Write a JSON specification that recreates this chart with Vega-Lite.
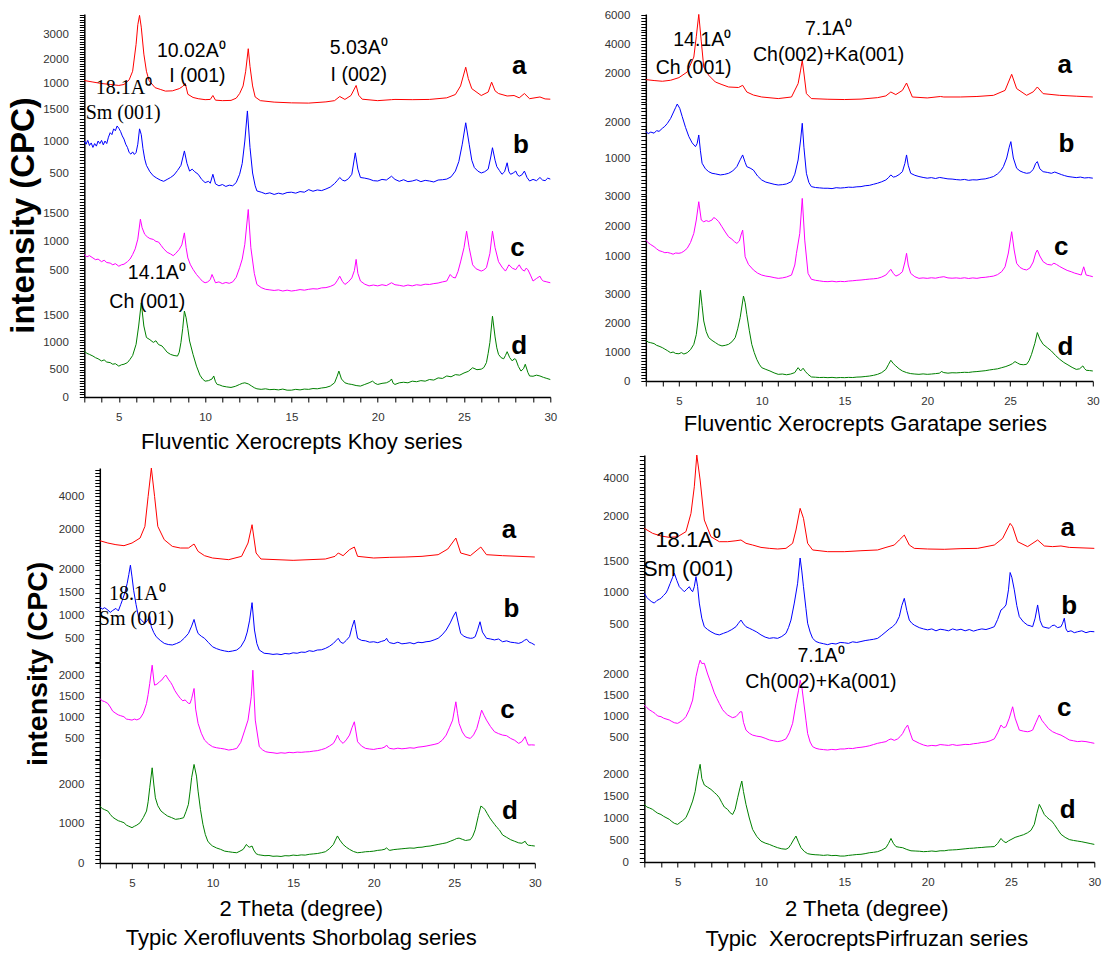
{
"$schema": "https://vega.github.io/schema/vega-lite/v6.json",
"background": "white",
"padding": {"left": 7, "top": 8, "right": 5, "bottom": 5},
"config": {
  "view": {"stroke": null},
  "axis": {"grid": false, "ticks": true, "domainColor": "#000", "domainWidth": 1.5, "tickColor": "#000", "tickWidth": 1, "labelFont": "Liberation Sans", "labelFontSize": 11.5, "labelColor": "#333", "labelOverlap": false, "labelFlush": false, "labelBound": false, "titleFont": "Liberation Sans", "titleFontSize": 22, "titleFontWeight": "normal", "titleColor": "#000"},
  "axisX": {"labelPadding": 9, "tickSize": 5},
  "axisY": {"labelPadding": 11, "tickSize": 5},
  "text": {"font": "Liberation Sans", "color": "#000", "baseline": "alphabetic", "align": "center"},
  "line": {"strokeWidth": 1}
},
"spacing": 45,
"hconcat": [
{"vconcat": [
 {"vconcat": [
  {"width": 466, "height": 94,
   "encoding": {"x": {"field": "t", "type": "quantitative", "scale": {"domain": [3, 30], "nice": false, "zero": false}, "axis": null},
     "y": {"field": "i", "type": "quantitative", "scale": {"domain": [0, 3837], "nice": false, "zero": false}, "axis": {"title": null, "tickCount": 38, "labelExpr": "datum.value > 0 && datum.value % 1000 === 0 ? '' + datum.value : ''", "encoding": {"ticks": {"update": {"x2": {"signal": "datum.value % 1000 === 0 ? -8 : -4"}}}}}}},
   "layer": [
    {"data": {"values": [{"t":3,"i":1120},{"t":3.5,"i":1060},{"t":4,"i":1000},{"t":4.5,"i":960},{"t":5,"i":920},{"t":5.3,"i":960},{"t":5.6,"i":1150},{"t":5.8,"i":1500},{"t":6.0,"i":2600},{"t":6.1,"i":3400},{"t":6.2,"i":3780},{"t":6.3,"i":3300},{"t":6.45,"i":2200},{"t":6.6,"i":1500},{"t":6.75,"i":1120},{"t":7.1,"i":830},{"t":7.4,"i":760},{"t":7.7,"i":690},{"t":8.1,"i":700},{"t":8.5,"i":790},{"t":8.7,"i":880},{"t":8.85,"i":1000},{"t":9.0,"i":560},{"t":9.3,"i":430},{"t":9.6,"i":380},{"t":10.0,"i":340},{"t":10.3,"i":350},{"t":10.45,"i":510},{"t":10.6,"i":320},{"t":11,"i":300},{"t":11.5,"i":310},{"t":11.8,"i":400},{"t":12.0,"i":590},{"t":12.2,"i":900},{"t":12.35,"i":1500},{"t":12.5,"i":2420},{"t":12.6,"i":1700},{"t":12.75,"i":900},{"t":12.9,"i":450},{"t":13.2,"i":300},{"t":14,"i":240},{"t":15,"i":210},{"t":16,"i":200},{"t":17,"i":250},{"t":17.5,"i":300},{"t":17.8,"i":470},{"t":18.1,"i":350},{"t":18.45,"i":510},{"t":18.75,"i":920},{"t":18.9,"i":520},{"t":19.1,"i":360},{"t":20,"i":300},{"t":20.8,"i":340},{"t":21,"i":350},{"t":22,"i":340},{"t":23,"i":350},{"t":24,"i":415},{"t":24.5,"i":550},{"t":24.8,"i":900},{"t":25.1,"i":1665},{"t":25.25,"i":1200},{"t":25.45,"i":790},{"t":26,"i":510},{"t":26.4,"i":650},{"t":26.6,"i":1055},{"t":26.8,"i":700},{"t":27,"i":590},{"t":27.5,"i":490},{"t":27.9,"i":510},{"t":28.2,"i":415},{"t":28.5,"i":590},{"t":28.8,"i":380},{"t":29.4,"i":450},{"t":29.7,"i":370},{"t":30,"i":360}]},
     "mark": {"type": "line", "color": "#ff0000"}},
    {"data": {"values": [{"t": 28.2, "i": 1395, "s": "a"}]}, "mark": {"type": "text", "fontSize": 26, "fontWeight": "bold"}, "encoding": {"text": {"field": "s"}}},
    {"data": {"values": [{"t": 9.2, "i": 2073, "s": "10.02A⁰"}, {"t": 9.55, "i": 1053, "s": "I (001)"}, {"t": 18.9, "i": 2211, "s": "5.03A⁰"}, {"t": 18.9, "i": 1122, "s": "I (002)"}]}, "mark": {"type": "text", "fontSize": 19.5}, "encoding": {"text": {"field": "s"}}},
    {"data": {"values": [{"t": 5.3, "i": 580, "s": "18.1A⁰"}]}, "mark": {"type": "text", "font": "Liberation Serif", "fontSize": 20}, "encoding": {"text": {"field": "s"}}}
   ]},
  {"width": 466, "height": 97,
   "encoding": {"x": {"field": "t", "type": "quantitative", "scale": {"domain": [3, 30], "nice": false, "zero": false}, "axis": null},
     "y": {"field": "i", "type": "quantitative", "scale": {"domain": [0, 1516], "nice": false, "zero": false}, "axis": {"title": null, "tickCount": 30, "labelExpr": "datum.value > 0 && datum.value % 500 === 0 ? '' + datum.value : ''", "encoding": {"ticks": {"update": {"x2": {"signal": "datum.value % 500 === 0 ? -8 : -4"}}}}}}},
   "layer": [
    {"data": {"values": [{"t":3,"i":1000},{"t":3.1,"i":950},{"t":3.2,"i":1010},{"t":3.3,"i":930},{"t":3.4,"i":970},{"t":3.5,"i":900},{"t":3.6,"i":960},{"t":3.7,"i":920},{"t":3.8,"i":1000},{"t":3.9,"i":960},{"t":4.0,"i":1010},{"t":4.1,"i":940},{"t":4.2,"i":1000},{"t":4.3,"i":960},{"t":4.4,"i":1060},{"t":4.5,"i":1130},{"t":4.6,"i":1100},{"t":4.7,"i":1190},{"t":4.8,"i":1160},{"t":4.9,"i":1235},{"t":5.0,"i":1200},{"t":5.1,"i":1150},{"t":5.2,"i":1080},{"t":5.3,"i":1030},{"t":5.4,"i":950},{"t":5.5,"i":900},{"t":5.6,"i":820},{"t":5.7,"i":795},{"t":5.8,"i":830},{"t":5.9,"i":790},{"t":6.0,"i":820},{"t":6.1,"i":950},{"t":6.2,"i":1190},{"t":6.3,"i":1100},{"t":6.4,"i":880},{"t":6.5,"i":720},{"t":6.6,"i":620},{"t":6.8,"i":520},{"t":7.0,"i":455},{"t":7.2,"i":420},{"t":7.4,"i":390},{"t":7.6,"i":370},{"t":7.8,"i":400},{"t":8.0,"i":430},{"t":8.2,"i":470},{"t":8.4,"i":540},{"t":8.6,"i":620},{"t":8.8,"i":845},{"t":8.95,"i":650},{"t":9.1,"i":530},{"t":9.25,"i":560},{"t":9.4,"i":520},{"t":9.6,"i":480},{"t":9.8,"i":400},{"t":10.0,"i":350},{"t":10.2,"i":370},{"t":10.3,"i":340},{"t":10.45,"i":480},{"t":10.6,"i":330},{"t":10.8,"i":300},{"t":11.0,"i":320},{"t":11.2,"i":290},{"t":11.4,"i":310},{"t":11.6,"i":300},{"t":11.8,"i":350},{"t":12.0,"i":480},{"t":12.15,"i":650},{"t":12.3,"i":1000},{"t":12.45,"i":1470},{"t":12.6,"i":900},{"t":12.75,"i":500},{"t":12.9,"i":300},{"t":13.0,"i":220},{"t":13.25,"i":200},{"t":13.5,"i":175},{"t":13.75,"i":190},{"t":14,"i":165},{"t":14.25,"i":185},{"t":14.5,"i":170},{"t":14.75,"i":195},{"t":15,"i":200},{"t":15.25,"i":185},{"t":15.5,"i":210},{"t":15.75,"i":200},{"t":16,"i":240},{"t":16.25,"i":215},{"t":16.5,"i":235},{"t":16.75,"i":225},{"t":17,"i":250},{"t":17.25,"i":280},{"t":17.5,"i":335},{"t":17.65,"i":380},{"t":17.8,"i":430},{"t":17.95,"i":390},{"t":18.1,"i":375},{"t":18.3,"i":410},{"t":18.5,"i":480},{"t":18.7,"i":815},{"t":18.85,"i":560},{"t":19.0,"i":430},{"t":19.25,"i":420},{"t":19.5,"i":405},{"t":19.75,"i":380},{"t":20,"i":375},{"t":20.25,"i":400},{"t":20.5,"i":390},{"t":20.8,"i":450},{"t":21.0,"i":400},{"t":21.25,"i":370},{"t":21.5,"i":395},{"t":21.75,"i":365},{"t":22,"i":375},{"t":22.25,"i":395},{"t":22.5,"i":365},{"t":22.75,"i":385},{"t":23,"i":375},{"t":23.25,"i":360},{"t":23.5,"i":390},{"t":23.75,"i":395},{"t":24,"i":405},{"t":24.25,"i":440},{"t":24.5,"i":530},{"t":24.7,"i":680},{"t":24.9,"i":950},{"t":25.1,"i":1285},{"t":25.3,"i":950},{"t":25.45,"i":700},{"t":25.6,"i":585},{"t":25.8,"i":530},{"t":26,"i":500},{"t":26.2,"i":520},{"t":26.4,"i":560},{"t":26.55,"i":750},{"t":26.65,"i":895},{"t":26.8,"i":700},{"t":26.9,"i":600},{"t":27.05,"i":540},{"t":27.2,"i":480},{"t":27.35,"i":520},{"t":27.5,"i":660},{"t":27.6,"i":520},{"t":27.7,"i":480},{"t":27.85,"i":500},{"t":28,"i":530},{"t":28.1,"i":470},{"t":28.2,"i":450},{"t":28.35,"i":470},{"t":28.5,"i":530},{"t":28.65,"i":430},{"t":28.8,"i":375},{"t":29.0,"i":400},{"t":29.2,"i":380},{"t":29.4,"i":430},{"t":29.55,"i":390},{"t":29.7,"i":380},{"t":29.85,"i":420},{"t":30,"i":405}]},
     "mark": {"type": "line", "color": "#0000ff"}},
    {"data": {"values": [{"t": 28.3, "i": 817, "s": "b"}]}, "mark": {"type": "text", "fontSize": 26, "fontWeight": "bold"}, "encoding": {"text": {"field": "s"}}},
    {"data": {"values": [{"t": 5.25, "i": 1339, "s": "Sm (001)"}]}, "mark": {"type": "text", "font": "Liberation Serif", "fontSize": 20}, "encoding": {"text": {"field": "s"}}}
   ]},
  {"width": 466, "height": 94,
   "encoding": {"x": {"field": "t", "type": "quantitative", "scale": {"domain": [3, 30], "nice": false, "zero": false}, "axis": null},
     "y": {"field": "i", "type": "quantitative", "scale": {"domain": [0, 1649], "nice": false, "zero": false}, "axis": {"title": null, "tickCount": 33, "labelExpr": "datum.value > 0 && datum.value % 500 === 0 ? '' + datum.value : ''", "encoding": {"ticks": {"update": {"x2": {"signal": "datum.value % 500 === 0 ? -8 : -4"}}}}}}},
   "layer": [
    {"data": {"values": [{"t":3,"i":780},{"t":3.15,"i":740},{"t":3.3,"i":760},{"t":3.5,"i":720},{"t":3.65,"i":690},{"t":3.8,"i":700},{"t":4,"i":655},{"t":4.15,"i":680},{"t":4.3,"i":640},{"t":4.5,"i":630},{"t":4.65,"i":600},{"t":4.8,"i":620},{"t":5,"i":575},{"t":5.15,"i":600},{"t":5.3,"i":610},{"t":5.5,"i":655},{"t":5.65,"i":700},{"t":5.8,"i":780},{"t":5.95,"i":880},{"t":6.1,"i":1050},{"t":6.25,"i":1400},{"t":6.35,"i":1250},{"t":6.5,"i":1135},{"t":6.65,"i":1090},{"t":6.8,"i":1060},{"t":7,"i":1045},{"t":7.15,"i":1010},{"t":7.3,"i":1000},{"t":7.45,"i":940},{"t":7.6,"i":880},{"t":7.8,"i":820},{"t":8,"i":790},{"t":8.15,"i":760},{"t":8.3,"i":800},{"t":8.5,"i":870},{"t":8.65,"i":950},{"t":8.8,"i":1160},{"t":8.9,"i":900},{"t":9.0,"i":720},{"t":9.15,"i":600},{"t":9.3,"i":520},{"t":9.5,"i":430},{"t":9.7,"i":360},{"t":9.85,"i":310},{"t":10,"i":285},{"t":10.15,"i":300},{"t":10.3,"i":340},{"t":10.4,"i":430},{"t":10.5,"i":360},{"t":10.6,"i":285},{"t":10.8,"i":300},{"t":11,"i":270},{"t":11.2,"i":290},{"t":11.4,"i":275},{"t":11.6,"i":300},{"t":11.8,"i":380},{"t":12.0,"i":550},{"t":12.15,"i":700},{"t":12.3,"i":960},{"t":12.5,"i":1570},{"t":12.65,"i":900},{"t":12.85,"i":450},{"t":13,"i":255},{"t":13.25,"i":200},{"t":13.5,"i":170},{"t":13.75,"i":160},{"t":14,"i":150},{"t":14.25,"i":160},{"t":14.5,"i":140},{"t":14.75,"i":155},{"t":15,"i":140},{"t":15.25,"i":150},{"t":15.5,"i":165},{"t":15.75,"i":155},{"t":16,"i":170},{"t":16.25,"i":180},{"t":16.5,"i":175},{"t":16.75,"i":195},{"t":17,"i":200},{"t":17.25,"i":220},{"t":17.5,"i":255},{"t":17.65,"i":320},{"t":17.8,"i":400},{"t":17.95,"i":310},{"t":18.1,"i":255},{"t":18.3,"i":300},{"t":18.5,"i":370},{"t":18.65,"i":500},{"t":18.75,"i":695},{"t":18.85,"i":450},{"t":19.0,"i":315},{"t":19.25,"i":260},{"t":19.5,"i":230},{"t":19.75,"i":245},{"t":20,"i":230},{"t":20.25,"i":250},{"t":20.5,"i":235},{"t":20.8,"i":285},{"t":21.0,"i":250},{"t":21.25,"i":240},{"t":21.5,"i":225},{"t":21.75,"i":245},{"t":22,"i":230},{"t":22.25,"i":250},{"t":22.5,"i":240},{"t":22.75,"i":260},{"t":23,"i":255},{"t":23.25,"i":270},{"t":23.5,"i":280},{"t":23.75,"i":300},{"t":24,"i":315},{"t":24.2,"i":430},{"t":24.35,"i":380},{"t":24.5,"i":370},{"t":24.65,"i":480},{"t":24.8,"i":650},{"t":25.0,"i":900},{"t":25.15,"i":1190},{"t":25.3,"i":900},{"t":25.5,"i":600},{"t":25.7,"i":530},{"t":26,"i":490},{"t":26.15,"i":510},{"t":26.3,"i":550},{"t":26.5,"i":800},{"t":26.65,"i":1190},{"t":26.8,"i":900},{"t":27,"i":655},{"t":27.2,"i":560},{"t":27.4,"i":490},{"t":27.5,"i":540},{"t":27.6,"i":600},{"t":27.8,"i":540},{"t":28,"i":515},{"t":28.1,"i":560},{"t":28.2,"i":600},{"t":28.35,"i":520},{"t":28.5,"i":490},{"t":28.6,"i":540},{"t":28.7,"i":515},{"t":28.85,"i":420},{"t":29,"i":315},{"t":29.2,"i":360},{"t":29.4,"i":400},{"t":29.5,"i":340},{"t":29.6,"i":315},{"t":29.8,"i":300},{"t":30,"i":285}]},
     "mark": {"type": "line", "color": "#ff00ff"}},
    {"data": {"values": [{"t": 28.1, "i": 752, "s": "c"}]}, "mark": {"type": "text", "fontSize": 26, "fontWeight": "bold"}, "encoding": {"text": {"field": "s"}}},
    {"data": {"values": [{"t": 7.2, "i": 345, "s": "14.1A⁰"}]}, "mark": {"type": "text", "fontSize": 19.5}, "encoding": {"text": {"field": "s"}}}
   ]},
  {"width": 466, "height": 98,
   "encoding": {"x": {"field": "t", "type": "quantitative", "scale": {"domain": [3, 30], "nice": false, "zero": false}, "axis": {"tickCount": 27, "labelExpr": "datum.value % 5 === 0 ? '' + datum.value : ''", "encoding": {"ticks": {"update": {"y2": {"signal": "datum.value % 5 === 0 ? 7 : 4"}}}}, "title": "Fluventic Xerocrepts Khoy series", "titleX": 217, "titleY": 44, "titleBaseline": "middle", "titleAlign": "center"}},
     "y": {"field": "i", "type": "quantitative", "scale": {"domain": [0, 1795], "nice": false, "zero": false}, "axis": {"title": null, "tickCount": 36, "labelExpr": "datum.value % 500 === 0 ? '' + datum.value : ''", "encoding": {"ticks": {"update": {"x2": {"signal": "datum.value % 500 === 0 ? -8 : -4"}}}}}}},
   "layer": [
    {"data": {"values": [{"t":3,"i":840},{"t":3.15,"i":800},{"t":3.3,"i":780},{"t":3.5,"i":750},{"t":3.65,"i":720},{"t":3.8,"i":700},{"t":4,"i":660},{"t":4.15,"i":680},{"t":4.3,"i":640},{"t":4.5,"i":630},{"t":4.65,"i":600},{"t":4.8,"i":610},{"t":5,"i":565},{"t":5.15,"i":590},{"t":5.3,"i":600},{"t":5.5,"i":630},{"t":5.65,"i":690},{"t":5.8,"i":760},{"t":6,"i":965},{"t":6.15,"i":1300},{"t":6.3,"i":1725},{"t":6.45,"i":1300},{"t":6.6,"i":1090},{"t":6.8,"i":1050},{"t":7,"i":1000},{"t":7.15,"i":1030},{"t":7.3,"i":960},{"t":7.5,"i":935},{"t":7.65,"i":880},{"t":7.8,"i":820},{"t":8,"i":780},{"t":8.2,"i":760},{"t":8.4,"i":750},{"t":8.5,"i":820},{"t":8.6,"i":1000},{"t":8.7,"i":1250},{"t":8.8,"i":1575},{"t":8.9,"i":1450},{"t":9.0,"i":1250},{"t":9.1,"i":1025},{"t":9.3,"i":780},{"t":9.5,"i":565},{"t":9.7,"i":400},{"t":9.85,"i":330},{"t":10,"i":290},{"t":10.2,"i":300},{"t":10.4,"i":330},{"t":10.5,"i":385},{"t":10.6,"i":280},{"t":10.7,"i":230},{"t":10.85,"i":220},{"t":11,"i":200},{"t":11.25,"i":185},{"t":11.5,"i":175},{"t":11.75,"i":195},{"t":12,"i":230},{"t":12.15,"i":250},{"t":12.3,"i":260},{"t":12.5,"i":240},{"t":12.7,"i":200},{"t":12.85,"i":170},{"t":13,"i":150},{"t":13.25,"i":140},{"t":13.5,"i":150},{"t":13.75,"i":135},{"t":14,"i":140},{"t":14.25,"i":130},{"t":14.5,"i":145},{"t":14.75,"i":125},{"t":15,"i":125},{"t":15.25,"i":140},{"t":15.5,"i":130},{"t":15.75,"i":145},{"t":16,"i":140},{"t":16.25,"i":155},{"t":16.5,"i":150},{"t":16.75,"i":165},{"t":17,"i":175},{"t":17.25,"i":200},{"t":17.5,"i":260},{"t":17.65,"i":380},{"t":17.75,"i":475},{"t":17.9,"i":330},{"t":18.1,"i":260},{"t":18.3,"i":240},{"t":18.5,"i":230},{"t":18.75,"i":210},{"t":19,"i":200},{"t":19.25,"i":230},{"t":19.5,"i":260},{"t":19.7,"i":290},{"t":19.85,"i":250},{"t":20,"i":230},{"t":20.25,"i":250},{"t":20.5,"i":260},{"t":20.7,"i":290},{"t":20.8,"i":330},{"t":20.9,"i":250},{"t":21,"i":230},{"t":21.25,"i":260},{"t":21.5,"i":270},{"t":21.75,"i":260},{"t":22,"i":290},{"t":22.25,"i":280},{"t":22.5,"i":300},{"t":22.75,"i":290},{"t":23,"i":320},{"t":23.25,"i":310},{"t":23.5,"i":350},{"t":23.75,"i":340},{"t":24,"i":385},{"t":24.25,"i":370},{"t":24.5,"i":410},{"t":24.75,"i":400},{"t":25,"i":440},{"t":25.25,"i":470},{"t":25.5,"i":535},{"t":25.75,"i":500},{"t":26,"i":510},{"t":26.15,"i":540},{"t":26.3,"i":630},{"t":26.4,"i":800},{"t":26.5,"i":1000},{"t":26.65,"i":1480},{"t":26.8,"i":1100},{"t":26.9,"i":900},{"t":27,"i":780},{"t":27.15,"i":720},{"t":27.3,"i":700},{"t":27.4,"i":760},{"t":27.5,"i":830},{"t":27.65,"i":720},{"t":27.8,"i":660},{"t":27.9,"i":700},{"t":28.0,"i":690},{"t":28.15,"i":560},{"t":28.3,"i":475},{"t":28.45,"i":520},{"t":28.55,"i":600},{"t":28.7,"i":450},{"t":28.8,"i":385},{"t":29,"i":380},{"t":29.2,"i":400},{"t":29.4,"i":385},{"t":29.6,"i":360},{"t":29.8,"i":340},{"t":30,"i":320}]},
     "mark": {"type": "line", "color": "#008000"}},
    {"data": {"values": [{"t": 28.2, "i": 781, "s": "d"}]}, "mark": {"type": "text", "fontSize": 26, "fontWeight": "bold"}, "encoding": {"text": {"field": "s"}}},
    {"data": {"values": [{"t": 6.65, "i": 1634, "s": "Ch (001)"}]}, "mark": {"type": "text", "fontSize": 19.5}, "encoding": {"text": {"field": "s"}}}
   ]}
 ], "spacing": 0, "bounds": "flush",
 "title": {"text": "intensity (CPC)", "orient": "left", "anchor": "middle", "font": "Liberation Sans", "fontSize": 33, "fontWeight": "bold", "color": "#000", "offset": 2, "dx": 15}},
 {"vconcat": [
  {"width": 435, "height": 95,
   "encoding": {"x": {"field": "t", "type": "quantitative", "scale": {"domain": [3, 30], "nice": false, "zero": false}, "axis": null},
     "y": {"field": "i", "type": "quantitative", "scale": {"domain": [0, 5706], "nice": false, "zero": false}, "axis": {"title": null, "tickCount": 28, "labelExpr": "datum.value > 0 && datum.value % 2000 === 0 ? '' + datum.value : ''", "encoding": {"ticks": {"update": {"x2": {"signal": "datum.value % 2000 === 0 ? -8 : -4"}}}}}}},
   "layer": [
    {"data": {"values": [{"t":3,"i":1340},{"t":3.5,"i":1200},{"t":4,"i":1100},{"t":4.5,"i":1040},{"t":5,"i":1200},{"t":5.5,"i":1500},{"t":5.8,"i":2200},{"t":6.0,"i":4000},{"t":6.2,"i":5700},{"t":6.4,"i":4000},{"t":6.6,"i":2200},{"t":7.0,"i":1400},{"t":7.5,"i":1000},{"t":8,"i":900},{"t":8.5,"i":900},{"t":8.85,"i":1140},{"t":9.1,"i":700},{"t":9.5,"i":440},{"t":10,"i":300},{"t":11,"i":200},{"t":11.8,"i":400},{"t":12.2,"i":1200},{"t":12.45,"i":2300},{"t":12.7,"i":600},{"t":13,"i":240},{"t":15,"i":160},{"t":17,"i":240},{"t":17.6,"i":400},{"t":17.8,"i":600},{"t":18.1,"i":440},{"t":18.5,"i":800},{"t":18.8,"i":960},{"t":19.0,"i":400},{"t":20,"i":300},{"t":21,"i":340},{"t":22,"i":360},{"t":23,"i":400},{"t":24,"i":500},{"t":24.6,"i":840},{"t":25.1,"i":1500},{"t":25.4,"i":600},{"t":26,"i":440},{"t":26.65,"i":960},{"t":27,"i":500},{"t":28,"i":440},{"t":30,"i":360}]},
     "mark": {"type": "line", "color": "#ff0000"}},
    {"data": {"values": [{"t": 28.4, "i": 1500, "s": "a"}]}, "mark": {"type": "text", "fontSize": 26, "fontWeight": "bold"}, "encoding": {"text": {"field": "s"}}}
   ]},
  {"width": 435, "height": 99,
   "encoding": {"x": {"field": "t", "type": "quantitative", "scale": {"domain": [3, 30], "nice": false, "zero": false}, "axis": null},
     "y": {"field": "i", "type": "quantitative", "scale": {"domain": [0, 2152], "nice": false, "zero": false}, "axis": {"title": null, "tickCount": 21, "labelExpr": "datum.value > 0 && datum.value % 500 === 0 ? '' + datum.value : ''", "encoding": {"ticks": {"update": {"x2": {"signal": "datum.value % 500 === 0 ? -8 : -4"}}}}}}},
   "layer": [
    {"data": {"values": [{"t":3,"i":1200},{"t":3.15,"i":1150},{"t":3.3,"i":1180},{"t":3.5,"i":1130},{"t":3.65,"i":1080},{"t":3.8,"i":1120},{"t":4,"i":1165},{"t":4.15,"i":1110},{"t":4.3,"i":1250},{"t":4.4,"i":1345},{"t":4.55,"i":1500},{"t":4.7,"i":1710},{"t":4.8,"i":1900},{"t":4.9,"i":2105},{"t":5.0,"i":1850},{"t":5.1,"i":1560},{"t":5.25,"i":1250},{"t":5.4,"i":985},{"t":5.6,"i":900},{"t":5.8,"i":840},{"t":5.95,"i":900},{"t":6.1,"i":985},{"t":6.2,"i":765},{"t":6.35,"i":640},{"t":6.5,"i":550},{"t":6.75,"i":470},{"t":7,"i":405},{"t":7.25,"i":380},{"t":7.5,"i":370},{"t":7.75,"i":400},{"t":8,"i":440},{"t":8.25,"i":520},{"t":8.5,"i":620},{"t":8.7,"i":780},{"t":8.85,"i":925},{"t":9.0,"i":720},{"t":9.1,"i":620},{"t":9.3,"i":560},{"t":9.5,"i":515},{"t":9.75,"i":420},{"t":10,"i":330},{"t":10.25,"i":290},{"t":10.5,"i":260},{"t":10.75,"i":240},{"t":11,"i":225},{"t":11.25,"i":240},{"t":11.5,"i":260},{"t":11.75,"i":330},{"t":12,"i":480},{"t":12.15,"i":650},{"t":12.3,"i":910},{"t":12.45,"i":1290},{"t":12.6,"i":695},{"t":12.75,"i":400},{"t":12.9,"i":260},{"t":13.2,"i":190},{"t":13.5,"i":180},{"t":13.75,"i":165},{"t":14,"i":175},{"t":14.25,"i":160},{"t":14.5,"i":185},{"t":14.75,"i":175},{"t":15,"i":200},{"t":15.25,"i":190},{"t":15.5,"i":215},{"t":15.75,"i":210},{"t":16,"i":245},{"t":16.25,"i":230},{"t":16.5,"i":260},{"t":16.75,"i":265},{"t":17,"i":295},{"t":17.25,"i":340},{"t":17.5,"i":405},{"t":17.65,"i":460},{"t":17.8,"i":515},{"t":17.95,"i":430},{"t":18.1,"i":405},{"t":18.3,"i":470},{"t":18.5,"i":550},{"t":18.65,"i":750},{"t":18.8,"i":910},{"t":18.9,"i":700},{"t":19.0,"i":515},{"t":19.25,"i":470},{"t":19.5,"i":460},{"t":19.75,"i":430},{"t":20,"i":440},{"t":20.25,"i":420},{"t":20.5,"i":450},{"t":20.7,"i":470},{"t":20.8,"i":515},{"t":20.9,"i":450},{"t":21,"i":420},{"t":21.25,"i":400},{"t":21.5,"i":430},{"t":21.75,"i":395},{"t":22,"i":405},{"t":22.25,"i":420},{"t":22.5,"i":395},{"t":22.75,"i":430},{"t":23,"i":420},{"t":23.25,"i":440},{"t":23.5,"i":450},{"t":23.75,"i":480},{"t":24,"i":515},{"t":24.25,"i":590},{"t":24.5,"i":695},{"t":24.75,"i":850},{"t":24.95,"i":1000},{"t":25.1,"i":1090},{"t":25.25,"i":850},{"t":25.4,"i":620},{"t":25.6,"i":560},{"t":25.8,"i":530},{"t":26,"i":515},{"t":26.15,"i":520},{"t":26.3,"i":550},{"t":26.45,"i":700},{"t":26.6,"i":875},{"t":26.75,"i":650},{"t":27,"i":515},{"t":27.25,"i":500},{"t":27.5,"i":480},{"t":27.75,"i":500},{"t":28,"i":440},{"t":28.25,"i":460},{"t":28.5,"i":430},{"t":28.75,"i":420},{"t":29,"i":405},{"t":29.2,"i":430},{"t":29.35,"i":470},{"t":29.5,"i":495},{"t":29.65,"i":430},{"t":29.8,"i":410},{"t":30,"i":370}]},
     "mark": {"type": "line", "color": "#0000ff"}},
    {"data": {"values": [{"t": 28.55, "i": 983, "s": "b"}]}, "mark": {"type": "text", "fontSize": 26, "fontWeight": "bold"}, "encoding": {"text": {"field": "s"}}},
    {"data": {"values": [{"t": 5.33, "i": 1345, "s": "18.1A⁰"}, {"t": 5.27, "i": 803, "s": "Sm (001)"}]}, "mark": {"type": "text", "font": "Liberation Serif", "fontSize": 20}, "encoding": {"text": {"field": "s"}}}
   ]},
  {"width": 435, "height": 97,
   "encoding": {"x": {"field": "t", "type": "quantitative", "scale": {"domain": [3, 30], "nice": false, "zero": false}, "axis": null},
     "y": {"field": "i", "type": "quantitative", "scale": {"domain": [0, 2332], "nice": false, "zero": false}, "axis": {"title": null, "tickCount": 23, "labelExpr": "datum.value > 0 && datum.value % 500 === 0 ? '' + datum.value : ''", "encoding": {"ticks": {"update": {"x2": {"signal": "datum.value % 500 === 0 ? -8 : -4"}}}}}}},
   "layer": [
    {"data": {"values": [{"t":3,"i":1455},{"t":3.15,"i":1400},{"t":3.3,"i":1380},{"t":3.5,"i":1335},{"t":3.65,"i":1250},{"t":3.8,"i":1150},{"t":4,"i":1095},{"t":4.15,"i":1060},{"t":4.3,"i":1040},{"t":4.5,"i":1015},{"t":4.65,"i":960},{"t":4.8,"i":950},{"t":5,"i":935},{"t":5.15,"i":960},{"t":5.3,"i":940},{"t":5.5,"i":975},{"t":5.7,"i":1100},{"t":5.9,"i":1335},{"t":6.0,"i":1550},{"t":6.1,"i":1815},{"t":6.25,"i":2255},{"t":6.35,"i":1900},{"t":6.4,"i":1775},{"t":6.55,"i":1800},{"t":6.7,"i":1855},{"t":6.85,"i":1900},{"t":7.0,"i":1980},{"t":7.1,"i":2015},{"t":7.25,"i":1920},{"t":7.4,"i":1840},{"t":7.5,"i":1775},{"t":7.65,"i":1650},{"t":7.8,"i":1560},{"t":8,"i":1455},{"t":8.15,"i":1400},{"t":8.3,"i":1420},{"t":8.4,"i":1375},{"t":8.5,"i":1340},{"t":8.6,"i":1335},{"t":8.7,"i":1450},{"t":8.85,"i":1695},{"t":8.95,"i":1200},{"t":9.1,"i":855},{"t":9.3,"i":620},{"t":9.5,"i":455},{"t":9.75,"i":360},{"t":10,"i":295},{"t":10.25,"i":270},{"t":10.5,"i":255},{"t":10.75,"i":240},{"t":11,"i":215},{"t":11.25,"i":230},{"t":11.5,"i":255},{"t":11.75,"i":400},{"t":12,"i":695},{"t":12.2,"i":935},{"t":12.4,"i":1495},{"t":12.5,"i":2135},{"t":12.65,"i":935},{"t":12.9,"i":295},{"t":13.1,"i":220},{"t":13.3,"i":175},{"t":13.5,"i":160},{"t":13.75,"i":150},{"t":14,"i":135},{"t":14.25,"i":150},{"t":14.5,"i":140},{"t":14.75,"i":160},{"t":15,"i":150},{"t":15.25,"i":165},{"t":15.5,"i":160},{"t":15.75,"i":170},{"t":16,"i":175},{"t":16.25,"i":190},{"t":16.5,"i":200},{"t":16.75,"i":225},{"t":17,"i":255},{"t":17.25,"i":310},{"t":17.5,"i":375},{"t":17.65,"i":480},{"t":17.75,"i":575},{"t":17.9,"i":450},{"t":18.1,"i":375},{"t":18.3,"i":460},{"t":18.5,"i":575},{"t":18.65,"i":750},{"t":18.8,"i":895},{"t":18.9,"i":650},{"t":19.0,"i":415},{"t":19.25,"i":310},{"t":19.5,"i":255},{"t":19.75,"i":240},{"t":20,"i":230},{"t":20.25,"i":250},{"t":20.5,"i":260},{"t":20.7,"i":290},{"t":20.8,"i":335},{"t":20.9,"i":280},{"t":21,"i":255},{"t":21.25,"i":240},{"t":21.5,"i":260},{"t":21.75,"i":245},{"t":22,"i":255},{"t":22.25,"i":270},{"t":22.5,"i":260},{"t":22.75,"i":285},{"t":23,"i":295},{"t":23.25,"i":310},{"t":23.5,"i":330},{"t":23.75,"i":350},{"t":24,"i":375},{"t":24.25,"i":450},{"t":24.5,"i":575},{"t":24.7,"i":750},{"t":24.9,"i":935},{"t":25.1,"i":1375},{"t":25.2,"i":1100},{"t":25.3,"i":855},{"t":25.5,"i":650},{"t":25.7,"i":535},{"t":25.85,"i":510},{"t":26,"i":495},{"t":26.2,"i":580},{"t":26.4,"i":735},{"t":26.55,"i":950},{"t":26.7,"i":1175},{"t":26.85,"i":1050},{"t":27,"i":935},{"t":27.25,"i":780},{"t":27.5,"i":655},{"t":27.75,"i":610},{"t":28,"i":575},{"t":28.25,"i":560},{"t":28.5,"i":495},{"t":28.75,"i":450},{"t":29,"i":375},{"t":29.2,"i":420},{"t":29.4,"i":535},{"t":29.5,"i":420},{"t":29.6,"i":335},{"t":29.8,"i":340},{"t":30,"i":335}]},
     "mark": {"type": "line", "color": "#ff00ff"}},
    {"data": {"values": [{"t": 28.3, "i": 977, "s": "c"}]}, "mark": {"type": "text", "fontSize": 26, "fontWeight": "bold"}, "encoding": {"text": {"field": "s"}}}
   ]},
  {"width": 435, "height": 104,
   "encoding": {"x": {"field": "t", "type": "quantitative", "scale": {"domain": [3, 30], "nice": false, "zero": false}, "axis": {"tickCount": 27, "labelExpr": "datum.value % 5 === 0 ? '' + datum.value : ''", "encoding": {"ticks": {"update": {"y2": {"signal": "datum.value % 5 === 0 ? 7 : 4"}}}}, "title": ["2 Theta (degree)", "Typic Xerofluvents Shorbolag series"], "titleLineHeight": 29, "titleX": 201, "titleY": 45, "titleBaseline": "middle", "titleAlign": "center"}},
     "y": {"field": "i", "type": "quantitative", "scale": {"domain": [0, 2633], "nice": false, "zero": false}, "axis": {"title": null, "tickCount": 26, "labelExpr": "datum.value % 1000 === 0 ? '' + datum.value : ''", "encoding": {"ticks": {"update": {"x2": {"signal": "datum.value % 1000 === 0 ? -8 : -4"}}}}}}},
   "layer": [
    {"data": {"values": [{"t":3,"i":1440},{"t":3.15,"i":1380},{"t":3.3,"i":1350},{"t":3.5,"i":1315},{"t":3.65,"i":1230},{"t":3.8,"i":1160},{"t":4,"i":1105},{"t":4.15,"i":1070},{"t":4.3,"i":1050},{"t":4.5,"i":1020},{"t":4.65,"i":960},{"t":4.8,"i":930},{"t":5,"i":895},{"t":5.15,"i":930},{"t":5.3,"i":960},{"t":5.5,"i":1020},{"t":5.7,"i":1150},{"t":5.9,"i":1315},{"t":6.0,"i":1550},{"t":6.1,"i":1905},{"t":6.25,"i":2410},{"t":6.35,"i":2000},{"t":6.45,"i":1650},{"t":6.6,"i":1450},{"t":6.8,"i":1315},{"t":7.0,"i":1250},{"t":7.2,"i":1190},{"t":7.45,"i":1150},{"t":7.7,"i":1105},{"t":7.95,"i":1120},{"t":8.2,"i":1145},{"t":8.35,"i":1300},{"t":8.5,"i":1485},{"t":8.6,"i":1800},{"t":8.7,"i":2160},{"t":8.85,"i":2495},{"t":9.0,"i":2200},{"t":9.1,"i":1820},{"t":9.25,"i":1350},{"t":9.4,"i":980},{"t":9.55,"i":720},{"t":9.7,"i":555},{"t":9.85,"i":480},{"t":10,"i":430},{"t":10.25,"i":380},{"t":10.5,"i":345},{"t":10.75,"i":300},{"t":11,"i":285},{"t":11.25,"i":270},{"t":11.5,"i":260},{"t":11.7,"i":300},{"t":11.9,"i":345},{"t":12.1,"i":470},{"t":12.2,"i":420},{"t":12.3,"i":400},{"t":12.45,"i":430},{"t":12.55,"i":330},{"t":12.7,"i":235},{"t":12.85,"i":210},{"t":13,"i":200},{"t":13.25,"i":185},{"t":13.5,"i":190},{"t":13.75,"i":170},{"t":14,"i":175},{"t":14.25,"i":165},{"t":14.5,"i":185},{"t":14.75,"i":180},{"t":15,"i":200},{"t":15.25,"i":190},{"t":15.5,"i":205},{"t":15.75,"i":200},{"t":16,"i":220},{"t":16.25,"i":230},{"t":16.5,"i":240},{"t":16.75,"i":260},{"t":17,"i":285},{"t":17.25,"i":360},{"t":17.5,"i":470},{"t":17.6,"i":560},{"t":17.75,"i":685},{"t":17.9,"i":580},{"t":18.1,"i":470},{"t":18.3,"i":400},{"t":18.5,"i":345},{"t":18.75,"i":290},{"t":19,"i":260},{"t":19.25,"i":270},{"t":19.5,"i":285},{"t":19.75,"i":290},{"t":20,"i":300},{"t":20.25,"i":320},{"t":20.5,"i":330},{"t":20.7,"i":350},{"t":20.8,"i":385},{"t":20.9,"i":340},{"t":21,"i":320},{"t":21.25,"i":340},{"t":21.5,"i":350},{"t":21.75,"i":360},{"t":22,"i":370},{"t":22.25,"i":380},{"t":22.5,"i":375},{"t":22.75,"i":395},{"t":23,"i":400},{"t":23.25,"i":420},{"t":23.5,"i":430},{"t":23.75,"i":450},{"t":24,"i":470},{"t":24.25,"i":490},{"t":24.5,"i":510},{"t":24.75,"i":550},{"t":25,"i":590},{"t":25.15,"i":620},{"t":25.3,"i":630},{"t":25.5,"i":600},{"t":25.7,"i":570},{"t":25.85,"i":580},{"t":26,"i":590},{"t":26.15,"i":680},{"t":26.3,"i":840},{"t":26.5,"i":1200},{"t":26.65,"i":1440},{"t":26.8,"i":1400},{"t":26.9,"i":1355},{"t":27.05,"i":1250},{"t":27.2,"i":1145},{"t":27.35,"i":1060},{"t":27.5,"i":980},{"t":27.65,"i":900},{"t":27.8,"i":840},{"t":28,"i":710},{"t":28.25,"i":650},{"t":28.5,"i":590},{"t":28.75,"i":550},{"t":29,"i":510},{"t":29.2,"i":500},{"t":29.4,"i":550},{"t":29.5,"i":480},{"t":29.6,"i":450},{"t":29.8,"i":440},{"t":30,"i":430}]},
     "mark": {"type": "line", "color": "#008000"}},
    {"data": {"values": [{"t": 28.45, "i": 1106, "s": "d"}]}, "mark": {"type": "text", "fontSize": 26, "fontWeight": "bold"}, "encoding": {"text": {"field": "s"}}}
   ]}
 ], "spacing": 0, "bounds": "flush",
 "title": {"text": "intensity (CPC)", "orient": "left", "anchor": "middle", "font": "Liberation Sans", "fontSize": 28.5, "fontWeight": "bold", "color": "#000", "offset": 6, "dx": 42}}
], "spacing": 11, "center": true},
{"vconcat": [
 {"vconcat": [
  {"width": 447, "height": 88,
   "encoding": {"x": {"field": "t", "type": "quantitative", "scale": {"domain": [3, 30], "nice": false, "zero": false}, "axis": null},
     "y": {"field": "i", "type": "quantitative", "scale": {"domain": [0, 6069], "nice": false, "zero": false}, "axis": {"title": null, "tickCount": 30, "labelExpr": "datum.value > 0 && datum.value % 2000 === 0 ? '' + datum.value : ''", "encoding": {"ticks": {"update": {"x2": {"signal": "datum.value % 2000 === 0 ? -8 : -4"}}}}}}},
   "layer": [
    {"data": {"values": [{"t":3,"i":1545},{"t":3.5,"i":1480},{"t":4,"i":1430},{"t":4.5,"i":1500},{"t":5,"i":1680},{"t":5.5,"i":2070},{"t":5.9,"i":3100},{"t":6.05,"i":4500},{"t":6.2,"i":6040},{"t":6.35,"i":4200},{"t":6.5,"i":2415},{"t":6.8,"i":1840},{"t":7.2,"i":1380},{"t":7.6,"i":1200},{"t":8,"i":1035},{"t":8.6,"i":1000},{"t":8.85,"i":1150},{"t":9.1,"i":690},{"t":9.5,"i":480},{"t":10,"i":345},{"t":11,"i":235},{"t":11.8,"i":345},{"t":12.2,"i":1270},{"t":12.35,"i":2200},{"t":12.45,"i":2880},{"t":12.55,"i":2000},{"t":12.7,"i":580},{"t":13,"i":235},{"t":14,"i":190},{"t":15,"i":170},{"t":16,"i":200},{"t":17,"i":300},{"t":17.5,"i":420},{"t":17.8,"i":690},{"t":18.1,"i":510},{"t":18.5,"i":800},{"t":18.75,"i":1310},{"t":19.1,"i":345},{"t":20,"i":280},{"t":20.8,"i":380},{"t":21,"i":345},{"t":22,"i":345},{"t":23,"i":380},{"t":24,"i":460},{"t":24.7,"i":800},{"t":25.1,"i":1910},{"t":25.4,"i":925},{"t":26,"i":460},{"t":26.4,"i":700},{"t":26.65,"i":1035},{"t":27,"i":575},{"t":28,"i":460},{"t":29,"i":400},{"t":30,"i":345}]},
     "mark": {"type": "line", "color": "#ff0000"}},
    {"data": {"values": [{"t": 28.3, "i": 2001, "s": "a"}]}, "mark": {"type": "text", "fontSize": 26, "fontWeight": "bold"}, "encoding": {"text": {"field": "s"}}},
    {"data": {"values": [{"t": 6.41, "i": 3843, "s": "14.1A⁰"}, {"t": 5.89, "i": 1911, "s": "Ch (001)"}, {"t": 14.04, "i": 4602, "s": "7.1A⁰"}, {"t": 14.04, "i": 2829, "s": "Ch(002)+Ka(001)"}]}, "mark": {"type": "text", "fontSize": 19.5}, "encoding": {"text": {"field": "s"}}}
   ]},
  {"width": 447, "height": 92,
   "encoding": {"x": {"field": "t", "type": "quantitative", "scale": {"domain": [3, 30], "nice": false, "zero": false}, "axis": null},
     "y": {"field": "i", "type": "quantitative", "scale": {"domain": [0, 2556], "nice": false, "zero": false}, "axis": {"title": null, "tickCount": 25, "labelExpr": "datum.value > 0 && datum.value % 1000 === 0 ? '' + datum.value : ''", "encoding": {"ticks": {"update": {"x2": {"signal": "datum.value % 1000 === 0 ? -8 : -4"}}}}}}},
   "layer": [
    {"data": {"values": [{"t":3,"i":1730},{"t":3.15,"i":1680},{"t":3.3,"i":1720},{"t":3.5,"i":1690},{"t":3.65,"i":1760},{"t":3.8,"i":1740},{"t":4,"i":1825},{"t":4.15,"i":1880},{"t":4.3,"i":1960},{"t":4.5,"i":2100},{"t":4.65,"i":2250},{"t":4.8,"i":2400},{"t":4.9,"i":2500},{"t":5.05,"i":2380},{"t":5.2,"i":2150},{"t":5.4,"i":1850},{"t":5.6,"i":1595},{"t":5.8,"i":1420},{"t":6.0,"i":1315},{"t":6.1,"i":1400},{"t":6.2,"i":1640},{"t":6.3,"i":1200},{"t":6.4,"i":855},{"t":6.6,"i":700},{"t":6.8,"i":620},{"t":7,"i":575},{"t":7.2,"i":560},{"t":7.5,"i":530},{"t":7.75,"i":545},{"t":8,"i":575},{"t":8.25,"i":640},{"t":8.5,"i":760},{"t":8.7,"i":950},{"t":8.85,"i":1085},{"t":9.0,"i":880},{"t":9.1,"i":760},{"t":9.3,"i":720},{"t":9.5,"i":665},{"t":9.75,"i":500},{"t":10,"i":390},{"t":10.25,"i":330},{"t":10.5,"i":300},{"t":10.75,"i":270},{"t":11,"i":250},{"t":11.25,"i":260},{"t":11.5,"i":280},{"t":11.8,"i":345},{"t":12.0,"i":550},{"t":12.2,"i":945},{"t":12.35,"i":1500},{"t":12.45,"i":1965},{"t":12.55,"i":1300},{"t":12.7,"i":575},{"t":12.85,"i":320},{"t":13,"i":205},{"t":13.25,"i":180},{"t":13.5,"i":170},{"t":13.75,"i":160},{"t":14,"i":160},{"t":14.25,"i":150},{"t":14.5,"i":175},{"t":14.75,"i":165},{"t":15,"i":175},{"t":15.25,"i":190},{"t":15.5,"i":185},{"t":15.75,"i":200},{"t":16,"i":205},{"t":16.25,"i":230},{"t":16.5,"i":240},{"t":16.75,"i":270},{"t":17,"i":300},{"t":17.25,"i":340},{"t":17.5,"i":390},{"t":17.65,"i":450},{"t":17.8,"i":530},{"t":17.95,"i":470},{"t":18.1,"i":485},{"t":18.3,"i":540},{"t":18.5,"i":620},{"t":18.65,"i":850},{"t":18.75,"i":1085},{"t":18.85,"i":800},{"t":19.0,"i":575},{"t":19.25,"i":520},{"t":19.5,"i":485},{"t":19.75,"i":460},{"t":20,"i":440},{"t":20.25,"i":455},{"t":20.5,"i":430},{"t":20.75,"i":460},{"t":21,"i":440},{"t":21.25,"i":420},{"t":21.5,"i":415},{"t":21.75,"i":400},{"t":22,"i":390},{"t":22.25,"i":405},{"t":22.5,"i":380},{"t":22.75,"i":395},{"t":23,"i":390},{"t":23.25,"i":410},{"t":23.5,"i":420},{"t":23.75,"i":450},{"t":24,"i":485},{"t":24.25,"i":560},{"t":24.45,"i":650},{"t":24.6,"i":760},{"t":24.8,"i":1000},{"t":24.95,"i":1300},{"t":25.05,"i":1455},{"t":25.2,"i":1000},{"t":25.4,"i":715},{"t":25.6,"i":640},{"t":25.8,"i":600},{"t":26,"i":575},{"t":26.2,"i":590},{"t":26.4,"i":680},{"t":26.55,"i":850},{"t":26.65,"i":900},{"t":26.8,"i":700},{"t":27,"i":620},{"t":27.25,"i":600},{"t":27.5,"i":575},{"t":27.7,"i":610},{"t":27.9,"i":575},{"t":28.1,"i":540},{"t":28.3,"i":510},{"t":28.5,"i":485},{"t":28.75,"i":470},{"t":29,"i":455},{"t":29.25,"i":470},{"t":29.5,"i":445},{"t":29.75,"i":455},{"t":30,"i":440}]},
     "mark": {"type": "line", "color": "#0000ff"}},
    {"data": {"values": [{"t": 28.4, "i": 1176, "s": "b"}]}, "mark": {"type": "text", "fontSize": 26, "fontWeight": "bold"}, "encoding": {"text": {"field": "s"}}}
   ]},
  {"width": 447, "height": 92,
   "encoding": {"x": {"field": "t", "type": "quantitative", "scale": {"domain": [3, 30], "nice": false, "zero": false}, "axis": null},
     "y": {"field": "i", "type": "quantitative", "scale": {"domain": [0, 3067], "nice": false, "zero": false}, "axis": {"title": null, "tickCount": 30, "labelExpr": "datum.value > 0 && datum.value % 1000 === 0 ? '' + datum.value : ''", "encoding": {"ticks": {"update": {"x2": {"signal": "datum.value % 1000 === 0 ? -8 : -4"}}}}}}},
   "layer": [
    {"data": {"values": [{"t":3,"i":1530},{"t":3.15,"i":1440},{"t":3.3,"i":1380},{"t":3.5,"i":1310},{"t":3.65,"i":1240},{"t":3.8,"i":1180},{"t":4,"i":1145},{"t":4.15,"i":1110},{"t":4.3,"i":1120},{"t":4.5,"i":1090},{"t":4.65,"i":1060},{"t":4.8,"i":1100},{"t":5,"i":1090},{"t":5.15,"i":1110},{"t":5.3,"i":1160},{"t":5.5,"i":1255},{"t":5.7,"i":1450},{"t":5.9,"i":1755},{"t":6.05,"i":2200},{"t":6.2,"i":2810},{"t":6.3,"i":2400},{"t":6.35,"i":2200},{"t":6.5,"i":2140},{"t":6.65,"i":2180},{"t":6.8,"i":2150},{"t":7,"i":2200},{"t":7.1,"i":2280},{"t":7.2,"i":2255},{"t":7.4,"i":2150},{"t":7.6,"i":1975},{"t":7.8,"i":1800},{"t":8,"i":1640},{"t":8.2,"i":1560},{"t":8.35,"i":1480},{"t":8.5,"i":1420},{"t":8.65,"i":1500},{"t":8.75,"i":1700},{"t":8.85,"i":1865},{"t":8.95,"i":1300},{"t":9.0,"i":975},{"t":9.2,"i":720},{"t":9.5,"i":535},{"t":9.75,"i":430},{"t":10,"i":365},{"t":10.25,"i":330},{"t":10.5,"i":310},{"t":10.75,"i":280},{"t":11,"i":255},{"t":11.25,"i":270},{"t":11.5,"i":300},{"t":11.8,"i":365},{"t":12.0,"i":700},{"t":12.1,"i":1090},{"t":12.3,"i":1755},{"t":12.45,"i":2920},{"t":12.6,"i":1530},{"t":12.8,"i":420},{"t":13,"i":225},{"t":13.25,"i":190},{"t":13.5,"i":170},{"t":13.75,"i":150},{"t":14,"i":145},{"t":14.25,"i":160},{"t":14.5,"i":140},{"t":14.75,"i":155},{"t":15,"i":145},{"t":15.25,"i":165},{"t":15.5,"i":175},{"t":15.75,"i":190},{"t":16,"i":200},{"t":16.25,"i":215},{"t":16.5,"i":230},{"t":16.75,"i":240},{"t":17,"i":255},{"t":17.25,"i":300},{"t":17.5,"i":365},{"t":17.65,"i":460},{"t":17.8,"i":555},{"t":17.95,"i":420},{"t":18.1,"i":330},{"t":18.3,"i":380},{"t":18.5,"i":475},{"t":18.65,"i":800},{"t":18.75,"i":1090},{"t":18.85,"i":700},{"t":19,"i":420},{"t":19.25,"i":310},{"t":19.5,"i":255},{"t":19.75,"i":270},{"t":20,"i":255},{"t":20.25,"i":275},{"t":20.5,"i":260},{"t":20.75,"i":290},{"t":21,"i":310},{"t":21.25,"i":270},{"t":21.5,"i":260},{"t":21.75,"i":270},{"t":22,"i":255},{"t":22.25,"i":275},{"t":22.5,"i":250},{"t":22.75,"i":270},{"t":23,"i":255},{"t":23.25,"i":280},{"t":23.5,"i":290},{"t":23.75,"i":310},{"t":24,"i":330},{"t":24.25,"i":380},{"t":24.5,"i":480},{"t":24.7,"i":640},{"t":24.9,"i":1100},{"t":25.1,"i":1810},{"t":25.25,"i":1200},{"t":25.4,"i":755},{"t":25.6,"i":620},{"t":25.8,"i":560},{"t":26,"i":535},{"t":26.2,"i":600},{"t":26.4,"i":800},{"t":26.55,"i":1100},{"t":26.65,"i":1200},{"t":26.8,"i":1000},{"t":27,"i":810},{"t":27.25,"i":720},{"t":27.5,"i":700},{"t":27.65,"i":760},{"t":27.8,"i":720},{"t":28,"i":650},{"t":28.2,"i":590},{"t":28.45,"i":520},{"t":28.7,"i":475},{"t":28.9,"i":430},{"t":29.1,"i":400},{"t":29.3,"i":365},{"t":29.45,"i":640},{"t":29.6,"i":365},{"t":29.8,"i":340},{"t":30,"i":310}]},
     "mark": {"type": "line", "color": "#ff00ff"}},
    {"data": {"values": [{"t": 28.1, "i": 1032, "s": "c"}]}, "mark": {"type": "text", "fontSize": 26, "fontWeight": "bold"}, "encoding": {"text": {"field": "s"}}}
   ]},
  {"width": 447, "height": 95,
   "encoding": {"x": {"field": "t", "type": "quantitative", "scale": {"domain": [3, 30], "nice": false, "zero": false}, "axis": {"tickCount": 27, "labelExpr": "datum.value % 5 === 0 ? '' + datum.value : ''", "encoding": {"ticks": {"update": {"y2": {"signal": "datum.value % 5 === 0 ? 7 : 4"}}}}, "title": "Fluventic Xerocrepts Garatape series", "titleX": 219, "titleY": 42, "titleBaseline": "middle", "titleAlign": "center"}},
     "y": {"field": "i", "type": "quantitative", "scale": {"domain": [0, 3276], "nice": false, "zero": false}, "axis": {"title": null, "tickCount": 32, "labelExpr": "datum.value % 1000 === 0 ? '' + datum.value : ''", "encoding": {"ticks": {"update": {"x2": {"signal": "datum.value % 1000 === 0 ? -8 : -4"}}}}}}},
   "layer": [
    {"data": {"values": [{"t":3,"i":1405},{"t":3.15,"i":1340},{"t":3.3,"i":1320},{"t":3.5,"i":1290},{"t":3.65,"i":1230},{"t":3.8,"i":1200},{"t":4,"i":1150},{"t":4.15,"i":1100},{"t":4.3,"i":1050},{"t":4.5,"i":975},{"t":4.65,"i":1000},{"t":4.8,"i":950},{"t":5,"i":940},{"t":5.15,"i":980},{"t":5.3,"i":930},{"t":5.5,"i":975},{"t":5.7,"i":1080},{"t":5.9,"i":1265},{"t":6.05,"i":1600},{"t":6.15,"i":2070},{"t":6.3,"i":3130},{"t":6.4,"i":2600},{"t":6.5,"i":2070},{"t":6.65,"i":1700},{"t":6.8,"i":1495},{"t":7.0,"i":1400},{"t":7.2,"i":1325},{"t":7.4,"i":1250},{"t":7.6,"i":1210},{"t":7.8,"i":1230},{"t":8,"i":1265},{"t":8.2,"i":1350},{"t":8.4,"i":1495},{"t":8.55,"i":1800},{"t":8.7,"i":2185},{"t":8.9,"i":2930},{"t":9.0,"i":2700},{"t":9.1,"i":2300},{"t":9.25,"i":1750},{"t":9.4,"i":1265},{"t":9.55,"i":980},{"t":9.7,"i":750},{"t":9.85,"i":580},{"t":10,"i":460},{"t":10.25,"i":400},{"t":10.5,"i":345},{"t":10.75,"i":280},{"t":11,"i":230},{"t":11.25,"i":240},{"t":11.5,"i":215},{"t":11.75,"i":240},{"t":12,"i":290},{"t":12.1,"i":380},{"t":12.2,"i":460},{"t":12.35,"i":345},{"t":12.5,"i":440},{"t":12.65,"i":320},{"t":12.8,"i":230},{"t":13,"i":140},{"t":13.25,"i":130},{"t":13.5,"i":120},{"t":13.75,"i":125},{"t":14,"i":115},{"t":14.25,"i":125},{"t":14.5,"i":110},{"t":14.75,"i":120},{"t":15,"i":115},{"t":15.25,"i":125},{"t":15.5,"i":120},{"t":15.75,"i":135},{"t":16,"i":140},{"t":16.25,"i":155},{"t":16.5,"i":170},{"t":16.75,"i":195},{"t":17,"i":230},{"t":17.25,"i":290},{"t":17.5,"i":400},{"t":17.65,"i":560},{"t":17.8,"i":715},{"t":17.95,"i":600},{"t":18.1,"i":520},{"t":18.3,"i":420},{"t":18.5,"i":345},{"t":18.75,"i":290},{"t":19,"i":255},{"t":19.25,"i":240},{"t":19.5,"i":230},{"t":19.75,"i":245},{"t":20,"i":230},{"t":20.25,"i":240},{"t":20.5,"i":255},{"t":20.75,"i":270},{"t":20.85,"i":330},{"t":21,"i":290},{"t":21.25,"i":270},{"t":21.5,"i":285},{"t":21.75,"i":280},{"t":22,"i":290},{"t":22.25,"i":300},{"t":22.5,"i":295},{"t":22.75,"i":315},{"t":23,"i":325},{"t":23.25,"i":340},{"t":23.5,"i":355},{"t":23.75,"i":380},{"t":24,"i":400},{"t":24.25,"i":420},{"t":24.5,"i":460},{"t":24.75,"i":500},{"t":25,"i":555},{"t":25.15,"i":600},{"t":25.3,"i":670},{"t":25.45,"i":620},{"t":25.6,"i":575},{"t":25.8,"i":560},{"t":26,"i":575},{"t":26.15,"i":700},{"t":26.3,"i":920},{"t":26.5,"i":1300},{"t":26.65,"i":1670},{"t":26.8,"i":1450},{"t":27,"i":1265},{"t":27.25,"i":1150},{"t":27.5,"i":1035},{"t":27.75,"i":880},{"t":28,"i":750},{"t":28.25,"i":640},{"t":28.5,"i":555},{"t":28.75,"i":470},{"t":29,"i":400},{"t":29.2,"i":420},{"t":29.4,"i":520},{"t":29.5,"i":430},{"t":29.6,"i":370},{"t":29.8,"i":360},{"t":30,"i":345}]},
     "mark": {"type": "line", "color": "#008000"}},
    {"data": {"values": [{"t": 28.35, "i": 897, "s": "d"}]}, "mark": {"type": "text", "fontSize": 26, "fontWeight": "bold"}, "encoding": {"text": {"field": "s"}}}
   ]}
 ], "spacing": 0, "bounds": "flush"},
 {"vconcat": [
  {"width": 450, "height": 100,
   "encoding": {"x": {"field": "t", "type": "quantitative", "scale": {"domain": [3, 30], "nice": false, "zero": false}, "axis": null},
     "y": {"field": "i", "type": "quantitative", "scale": {"domain": [0, 5263], "nice": false, "zero": false}, "axis": {"title": null, "tickCount": 26, "labelExpr": "datum.value > 0 && datum.value % 2000 === 0 ? '' + datum.value : ''", "encoding": {"ticks": {"update": {"x2": {"signal": "datum.value % 2000 === 0 ? -8 : -4"}}}}}}},
   "layer": [
    {"data": {"values": [{"t":3,"i":1400},{"t":3.5,"i":1140},{"t":4,"i":1000},{"t":4.5,"i":930},{"t":5,"i":960},{"t":5.5,"i":1230},{"t":5.8,"i":2190},{"t":6.0,"i":3590},{"t":6.15,"i":5260},{"t":6.35,"i":3945},{"t":6.6,"i":1840},{"t":7.0,"i":960},{"t":7.5,"i":700},{"t":8,"i":700},{"t":8.5,"i":750},{"t":8.8,"i":790},{"t":9.1,"i":615},{"t":9.5,"i":525},{"t":10,"i":400},{"t":10.5,"i":350},{"t":11,"i":315},{"t":11.5,"i":350},{"t":11.9,"i":615},{"t":12.1,"i":1315},{"t":12.35,"i":2455},{"t":12.55,"i":1930},{"t":12.8,"i":615},{"t":13.1,"i":265},{"t":14,"i":175},{"t":15,"i":175},{"t":16,"i":225},{"t":17,"i":265},{"t":17.5,"i":400},{"t":18,"i":525},{"t":18.3,"i":790},{"t":18.6,"i":1050},{"t":18.9,"i":525},{"t":19.2,"i":350},{"t":20,"i":315},{"t":21,"i":300},{"t":22,"i":335},{"t":23,"i":350},{"t":24,"i":525},{"t":24.5,"i":875},{"t":24.95,"i":1665},{"t":25.1,"i":1490},{"t":25.4,"i":700},{"t":26,"i":440},{"t":26.6,"i":790},{"t":27,"i":475},{"t":27.5,"i":440},{"t":28,"i":475},{"t":28.5,"i":400},{"t":30,"i":350}]},
     "mark": {"type": "line", "color": "#ff0000"}},
    {"data": {"values": [{"t": 28.4, "i": 1000, "s": "a"}]}, "mark": {"type": "text", "fontSize": 26, "fontWeight": "bold"}, "encoding": {"text": {"field": "s"}}},
    {"data": {"values": [{"t": 5.63, "i": 437, "s": "18.1A⁰"}]}, "mark": {"type": "text", "fontSize": 22}, "encoding": {"text": {"field": "s"}}}
   ]},
  {"width": 450, "height": 101,
   "encoding": {"x": {"field": "t", "type": "quantitative", "scale": {"domain": [3, 30], "nice": false, "zero": false}, "axis": null},
     "y": {"field": "i", "type": "quantitative", "scale": {"domain": [0, 1603], "nice": false, "zero": false}, "axis": {"title": null, "tickCount": 32, "labelExpr": "datum.value > 0 && datum.value % 500 === 0 ? '' + datum.value : ''", "encoding": {"ticks": {"update": {"x2": {"signal": "datum.value % 500 === 0 ? -8 : -4"}}}}}}},
   "layer": [
    {"data": {"values": [{"t":3,"i":995},{"t":3.15,"i":930},{"t":3.3,"i":890},{"t":3.45,"i":860},{"t":3.6,"i":840},{"t":3.75,"i":880},{"t":3.9,"i":900},{"t":4,"i":915},{"t":4.15,"i":960},{"t":4.3,"i":1000},{"t":4.4,"i":1050},{"t":4.55,"i":1150},{"t":4.7,"i":1250},{"t":4.8,"i":1315},{"t":4.95,"i":1200},{"t":5.1,"i":1100},{"t":5.25,"i":1060},{"t":5.4,"i":1020},{"t":5.55,"i":1060},{"t":5.7,"i":1100},{"t":5.8,"i":1050},{"t":5.9,"i":1020},{"t":6.0,"i":1100},{"t":6.1,"i":1260},{"t":6.2,"i":1100},{"t":6.3,"i":840},{"t":6.45,"i":600},{"t":6.6,"i":465},{"t":6.8,"i":420},{"t":7,"i":385},{"t":7.25,"i":350},{"t":7.5,"i":335},{"t":7.75,"i":360},{"t":8,"i":385},{"t":8.25,"i":420},{"t":8.5,"i":465},{"t":8.65,"i":520},{"t":8.8,"i":570},{"t":8.95,"i":510},{"t":9.1,"i":465},{"t":9.3,"i":440},{"t":9.5,"i":415},{"t":9.75,"i":380},{"t":10,"i":335},{"t":10.25,"i":300},{"t":10.5,"i":280},{"t":10.75,"i":290},{"t":11,"i":280},{"t":11.25,"i":310},{"t":11.5,"i":360},{"t":11.65,"i":450},{"t":11.8,"i":570},{"t":12.0,"i":840},{"t":12.2,"i":1155},{"t":12.35,"i":1555},{"t":12.45,"i":1350},{"t":12.55,"i":1100},{"t":12.7,"i":750},{"t":12.8,"i":520},{"t":12.95,"i":380},{"t":13.1,"i":280},{"t":13.3,"i":230},{"t":13.5,"i":210},{"t":13.75,"i":195},{"t":14,"i":180},{"t":14.25,"i":200},{"t":14.5,"i":190},{"t":14.75,"i":215},{"t":15,"i":210},{"t":15.25,"i":200},{"t":15.5,"i":225},{"t":15.75,"i":215},{"t":16,"i":230},{"t":16.25,"i":245},{"t":16.5,"i":255},{"t":16.75,"i":265},{"t":17,"i":280},{"t":17.25,"i":330},{"t":17.5,"i":385},{"t":17.7,"i":430},{"t":17.9,"i":465},{"t":18.1,"i":520},{"t":18.3,"i":625},{"t":18.45,"i":800},{"t":18.6,"i":915},{"t":18.75,"i":720},{"t":18.9,"i":570},{"t":19.05,"i":520},{"t":19.2,"i":490},{"t":19.5,"i":450},{"t":19.75,"i":430},{"t":20,"i":415},{"t":20.25,"i":430},{"t":20.5,"i":400},{"t":20.75,"i":425},{"t":21,"i":415},{"t":21.25,"i":400},{"t":21.5,"i":430},{"t":21.75,"i":410},{"t":22,"i":425},{"t":22.25,"i":400},{"t":22.5,"i":420},{"t":22.75,"i":395},{"t":23,"i":415},{"t":23.25,"i":430},{"t":23.5,"i":420},{"t":23.75,"i":440},{"t":24,"i":465},{"t":24.2,"i":580},{"t":24.4,"i":730},{"t":24.55,"i":760},{"t":24.7,"i":810},{"t":24.85,"i":1050},{"t":24.95,"i":1325},{"t":25.05,"i":1250},{"t":25.2,"i":1050},{"t":25.35,"i":800},{"t":25.5,"i":625},{"t":25.75,"i":540},{"t":26,"i":490},{"t":26.15,"i":480},{"t":26.3,"i":465},{"t":26.45,"i":600},{"t":26.6,"i":810},{"t":26.75,"i":560},{"t":26.9,"i":465},{"t":27.1,"i":450},{"t":27.3,"i":440},{"t":27.45,"i":480},{"t":27.6,"i":490},{"t":27.8,"i":450},{"t":28,"i":465},{"t":28.1,"i":520},{"t":28.2,"i":600},{"t":28.3,"i":430},{"t":28.4,"i":385},{"t":28.6,"i":400},{"t":28.8,"i":370},{"t":29,"i":385},{"t":29.25,"i":400},{"t":29.5,"i":370},{"t":29.75,"i":390},{"t":30,"i":385}]},
     "mark": {"type": "line", "color": "#0000ff"}},
    {"data": {"values": [{"t": 28.5, "i": 668, "s": "b"}]}, "mark": {"type": "text", "fontSize": 26, "fontWeight": "bold"}, "encoding": {"text": {"field": "s"}}},
    {"data": {"values": [{"t": 5.63, "i": 1272, "s": "Sm (001)"}]}, "mark": {"type": "text", "fontSize": 22}, "encoding": {"text": {"field": "s"}}}
   ]},
  {"width": 450, "height": 102,
   "encoding": {"x": {"field": "t", "type": "quantitative", "scale": {"domain": [3, 30], "nice": false, "zero": false}, "axis": null},
     "y": {"field": "i", "type": "quantitative", "scale": {"domain": [0, 2429], "nice": false, "zero": false}, "axis": {"title": null, "tickCount": 24, "labelExpr": "datum.value > 0 && datum.value % 500 === 0 ? '' + datum.value : ''", "encoding": {"ticks": {"update": {"x2": {"signal": "datum.value % 500 === 0 ? -8 : -4"}}}}}}},
   "layer": [
    {"data": {"values": [{"t":3,"i":1260},{"t":3.15,"i":1200},{"t":3.3,"i":1150},{"t":3.5,"i":1100},{"t":3.65,"i":1060},{"t":3.8,"i":1000},{"t":4,"i":985},{"t":4.15,"i":950},{"t":4.3,"i":930},{"t":4.5,"i":905},{"t":4.65,"i":870},{"t":4.8,"i":840},{"t":5,"i":825},{"t":5.15,"i":860},{"t":5.3,"i":900},{"t":5.5,"i":985},{"t":5.7,"i":1150},{"t":5.9,"i":1380},{"t":6.0,"i":1650},{"t":6.1,"i":1935},{"t":6.25,"i":2200},{"t":6.35,"i":2330},{"t":6.45,"i":2250},{"t":6.6,"i":2255},{"t":6.8,"i":2000},{"t":7.0,"i":1780},{"t":7.2,"i":1550},{"t":7.35,"i":1420},{"t":7.5,"i":1300},{"t":7.7,"i":1150},{"t":7.85,"i":1080},{"t":8,"i":1025},{"t":8.15,"i":990},{"t":8.3,"i":960},{"t":8.5,"i":985},{"t":8.65,"i":1050},{"t":8.75,"i":1100},{"t":8.85,"i":1100},{"t":8.95,"i":850},{"t":9.1,"i":665},{"t":9.3,"i":590},{"t":9.5,"i":545},{"t":9.75,"i":520},{"t":10,"i":505},{"t":10.25,"i":470},{"t":10.5,"i":430},{"t":10.75,"i":410},{"t":11,"i":390},{"t":11.25,"i":410},{"t":11.5,"i":455},{"t":11.7,"i":600},{"t":11.9,"i":825},{"t":12.1,"i":1300},{"t":12.25,"i":1600},{"t":12.35,"i":1855},{"t":12.45,"i":1700},{"t":12.55,"i":1380},{"t":12.7,"i":900},{"t":12.8,"i":583},{"t":12.95,"i":380},{"t":13.1,"i":270},{"t":13.3,"i":230},{"t":13.5,"i":210},{"t":13.75,"i":200},{"t":14,"i":190},{"t":14.25,"i":205},{"t":14.5,"i":195},{"t":14.75,"i":215},{"t":15,"i":215},{"t":15.25,"i":230},{"t":15.5,"i":225},{"t":15.75,"i":245},{"t":16,"i":255},{"t":16.25,"i":270},{"t":16.5,"i":290},{"t":16.75,"i":320},{"t":17,"i":350},{"t":17.25,"i":370},{"t":17.5,"i":390},{"t":17.65,"i":430},{"t":17.8,"i":455},{"t":18.0,"i":420},{"t":18.2,"i":455},{"t":18.35,"i":510},{"t":18.5,"i":583},{"t":18.65,"i":700},{"t":18.8,"i":785},{"t":18.95,"i":600},{"t":19.1,"i":430},{"t":19.3,"i":390},{"t":19.5,"i":350},{"t":19.75,"i":310},{"t":20,"i":285},{"t":20.25,"i":300},{"t":20.5,"i":290},{"t":20.75,"i":320},{"t":21,"i":310},{"t":21.25,"i":300},{"t":21.5,"i":320},{"t":21.75,"i":300},{"t":22,"i":310},{"t":22.25,"i":325},{"t":22.5,"i":320},{"t":22.75,"i":340},{"t":23,"i":350},{"t":23.25,"i":370},{"t":23.5,"i":380},{"t":23.75,"i":410},{"t":24,"i":455},{"t":24.2,"i":600},{"t":24.4,"i":785},{"t":24.55,"i":720},{"t":24.7,"i":745},{"t":24.9,"i":950},{"t":25.1,"i":1220},{"t":25.25,"i":950},{"t":25.5,"i":665},{"t":25.75,"i":640},{"t":26,"i":625},{"t":26.15,"i":640},{"t":26.3,"i":665},{"t":26.5,"i":850},{"t":26.7,"i":1025},{"t":26.85,"i":900},{"t":27,"i":825},{"t":27.25,"i":700},{"t":27.5,"i":625},{"t":27.75,"i":580},{"t":28,"i":545},{"t":28.25,"i":490},{"t":28.5,"i":430},{"t":28.75,"i":410},{"t":29,"i":390},{"t":29.25,"i":400},{"t":29.5,"i":390},{"t":29.75,"i":370},{"t":30,"i":350}]},
     "mark": {"type": "line", "color": "#ff00ff"}},
    {"data": {"values": [{"t": 28.2, "i": 1000, "s": "c"}]}, "mark": {"type": "text", "fontSize": 26, "fontWeight": "bold"}, "encoding": {"text": {"field": "s"}}},
    {"data": {"values": [{"t": 13.6, "i": 2292, "s": "7.1A⁰"}, {"t": 13.6, "i": 1659, "s": "Ch(002)+Ka(001)"}]}, "mark": {"type": "text", "fontSize": 19.5}, "encoding": {"text": {"field": "s"}}}
   ]},
  {"width": 450, "height": 104,
   "encoding": {"x": {"field": "t", "type": "quantitative", "scale": {"domain": [3, 30], "nice": false, "zero": false}, "axis": {"tickCount": 27, "labelExpr": "datum.value % 5 === 0 ? '' + datum.value : ''", "encoding": {"ticks": {"update": {"y2": {"signal": "datum.value % 5 === 0 ? 7 : 4"}}}}, "title": ["2 Theta (degree)", "Typic \u00a0XerocreptsPirfruzan series"], "titleLineHeight": 30, "titleX": 222, "titleY": 46, "titleBaseline": "middle", "titleAlign": "center"}},
     "y": {"field": "i", "type": "quantitative", "scale": {"domain": [0, 2364], "nice": false, "zero": false}, "axis": {"title": null, "tickCount": 23, "labelExpr": "datum.value % 500 === 0 ? '' + datum.value : ''", "encoding": {"ticks": {"update": {"x2": {"signal": "datum.value % 500 === 0 ? -8 : -4"}}}}}}},
   "layer": [
    {"data": {"values": [{"t":3,"i":1310},{"t":3.15,"i":1250},{"t":3.3,"i":1230},{"t":3.5,"i":1195},{"t":3.65,"i":1150},{"t":3.8,"i":1110},{"t":4,"i":1080},{"t":4.15,"i":1040},{"t":4.3,"i":1010},{"t":4.5,"i":970},{"t":4.65,"i":920},{"t":4.8,"i":880},{"t":5,"i":855},{"t":5.15,"i":900},{"t":5.3,"i":940},{"t":5.5,"i":1010},{"t":5.7,"i":1180},{"t":5.9,"i":1385},{"t":6.05,"i":1600},{"t":6.15,"i":1840},{"t":6.25,"i":2050},{"t":6.35,"i":2220},{"t":6.45,"i":1900},{"t":6.6,"i":1750},{"t":6.8,"i":1700},{"t":7,"i":1650},{"t":7.2,"i":1580},{"t":7.35,"i":1530},{"t":7.5,"i":1460},{"t":7.65,"i":1350},{"t":7.8,"i":1250},{"t":8,"i":1195},{"t":8.15,"i":1120},{"t":8.3,"i":1080},{"t":8.45,"i":1200},{"t":8.6,"i":1460},{"t":8.75,"i":1700},{"t":8.85,"i":1840},{"t":8.95,"i":1600},{"t":9.1,"i":1310},{"t":9.3,"i":1000},{"t":9.5,"i":740},{"t":9.75,"i":580},{"t":10,"i":475},{"t":10.25,"i":430},{"t":10.5,"i":400},{"t":10.75,"i":360},{"t":11,"i":325},{"t":11.25,"i":300},{"t":11.5,"i":290},{"t":11.65,"i":320},{"t":11.8,"i":400},{"t":11.95,"i":500},{"t":12.1,"i":590},{"t":12.25,"i":450},{"t":12.4,"i":325},{"t":12.6,"i":240},{"t":12.8,"i":190},{"t":13,"i":175},{"t":13.25,"i":165},{"t":13.5,"i":160},{"t":13.75,"i":150},{"t":14,"i":160},{"t":14.25,"i":145},{"t":14.5,"i":150},{"t":14.75,"i":135},{"t":15,"i":135},{"t":15.25,"i":150},{"t":15.5,"i":160},{"t":15.75,"i":170},{"t":16,"i":175},{"t":16.25,"i":190},{"t":16.5,"i":210},{"t":16.75,"i":220},{"t":17,"i":235},{"t":17.25,"i":270},{"t":17.5,"i":325},{"t":17.65,"i":420},{"t":17.8,"i":535},{"t":17.95,"i":420},{"t":18.1,"i":350},{"t":18.3,"i":335},{"t":18.5,"i":325},{"t":18.75,"i":285},{"t":19,"i":255},{"t":19.25,"i":250},{"t":19.5,"i":245},{"t":19.75,"i":235},{"t":20,"i":240},{"t":20.25,"i":250},{"t":20.5,"i":240},{"t":20.75,"i":255},{"t":21,"i":255},{"t":21.25,"i":270},{"t":21.5,"i":275},{"t":21.75,"i":280},{"t":22,"i":290},{"t":22.25,"i":300},{"t":22.5,"i":310},{"t":22.75,"i":315},{"t":23,"i":325},{"t":23.25,"i":330},{"t":23.5,"i":340},{"t":23.75,"i":345},{"t":24,"i":350},{"t":24.2,"i":420},{"t":24.4,"i":535},{"t":24.55,"i":470},{"t":24.7,"i":440},{"t":24.85,"i":480},{"t":25,"i":510},{"t":25.25,"i":560},{"t":25.5,"i":590},{"t":25.75,"i":620},{"t":26,"i":665},{"t":26.2,"i":720},{"t":26.4,"i":855},{"t":26.55,"i":1100},{"t":26.7,"i":1310},{"t":26.85,"i":1200},{"t":27,"i":1080},{"t":27.15,"i":1020},{"t":27.3,"i":970},{"t":27.45,"i":930},{"t":27.6,"i":855},{"t":27.8,"i":740},{"t":28,"i":630},{"t":28.25,"i":560},{"t":28.5,"i":510},{"t":28.75,"i":490},{"t":29,"i":475},{"t":29.25,"i":460},{"t":29.5,"i":440},{"t":29.75,"i":420},{"t":30,"i":400}]},
     "mark": {"type": "line", "color": "#008000"}},
    {"data": {"values": [{"t": 28.4, "i": 1006, "s": "d"}]}, "mark": {"type": "text", "fontSize": 26, "fontWeight": "bold"}, "encoding": {"text": {"field": "s"}}}
   ]}
 ], "spacing": 0, "bounds": "flush"}
], "spacing": 16, "center": true}
]
}
